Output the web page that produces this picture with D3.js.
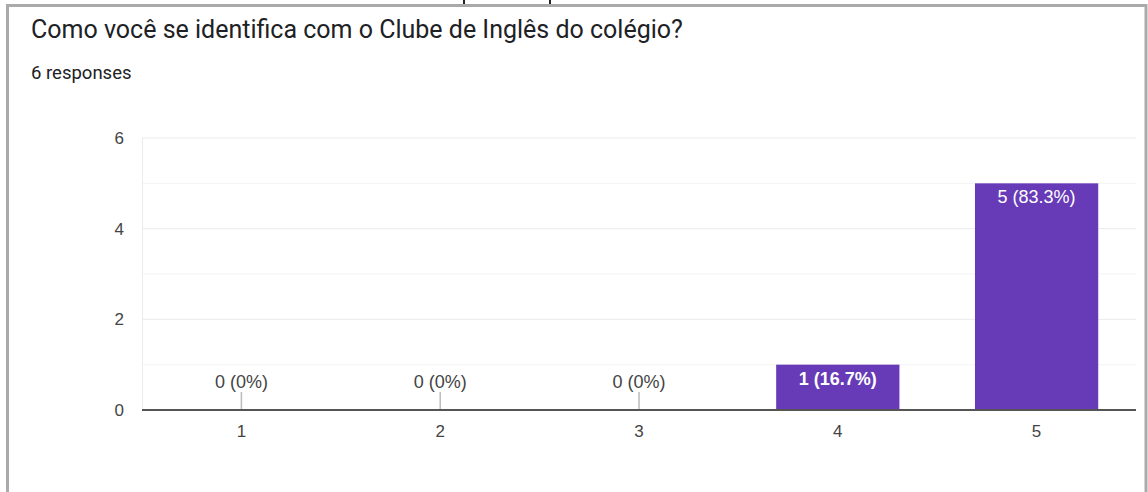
<!DOCTYPE html>
<html>
<head>
<meta charset="utf-8">
<script src="https://cdn.jsdelivr.net/npm/d3@7"></script>
<style>
  body { margin: 0; background: #fff; }
  svg { display: block; }
</style>
</head>
<body>
<svg id="chart"></svg>
<script>
const title = "Como você se identifica com o Clube de Inglês do colégio?";
const subtitle = "6 responses";
const categories = ["1", "2", "3", "4", "5"];
const counts = [0, 0, 0, 1, 5];
const percents = ["0%", "0%", "0%", "16.7%", "83.3%"];
const yTicks = [0, 2, 4, 6];

const width = 1148, height = 492;
const svg = d3.select("#chart").attr("width", width).attr("height", height);

// Card frame
svg.append("rect")
  .attr("x", 7.5).attr("y", 5.5)
  .attr("width", 1138.5).attr("height", 500)
  .attr("fill", "#fff").attr("stroke", "#aaa").attr("stroke-width", 3);

// small marks above the frame
[464, 550].forEach(x => {
  svg.append("rect").attr("x", x - 1).attr("y", 0).attr("width", 2).attr("height", 4).attr("fill", "#222");
});

svg.append("text")
  .attr("x", 31).attr("y", 38)
  .attr("font-family", "Roboto, Arial, sans-serif")
  .attr("font-size", 25)
  .attr("fill", "#202124")
  .text(title);

svg.append("text")
  .attr("x", 31).attr("y", 79)
  .attr("font-family", "Roboto, Arial, sans-serif")
  .attr("font-size", 18.5)
  .attr("fill", "#202124")
  .text(subtitle);

const margin = { top: 138, left: 142 };
const innerW = 1136 - margin.left;
const innerH = 410 - margin.top;
const font = "Arial, 'Liberation Sans', sans-serif";

const g = svg.append("g").attr("transform", `translate(${margin.left},${margin.top})`);

const x = d3.scaleBand().domain(categories).range([0, innerW]).paddingInner(0.38).paddingOuter(0.19);
const y = d3.scaleLinear().domain([0, 6]).range([innerH, 0]);

// gridlines (major + minor)
g.append("g")
  .selectAll("line")
  .data(d3.range(1, 7))
  .join("line")
  .attr("x1", 0).attr("x2", innerW)
  .attr("y1", d => y(d)).attr("y2", d => y(d))
  .attr("stroke", d => d % 2 === 0 ? "#ebebeb" : "#f3f3f3")
  .attr("stroke-width", 1);

g.append("line")
  .attr("x1", 0.5).attr("x2", 0.5)
  .attr("y1", 0).attr("y2", innerH)
  .attr("stroke", "#ebebeb");

// y axis labels
const yAxis = d3.axisLeft(y).tickValues(yTicks).tickFormat(d3.format("d")).tickSize(0).tickPadding(18);
g.append("g").call(yAxis)
  .call(s => s.select(".domain").remove())
  .selectAll("text")
  .attr("font-family", font)
  .attr("font-size", 17)
  .attr("fill", "#444");

const data = categories.map((c, i) => ({ c, v: counts[i], p: percents[i] }));

// bars
g.selectAll("rect.bar")
  .data(data)
  .join("rect")
  .attr("class", "bar")
  .attr("x", d => x(d.c))
  .attr("y", d => y(d.v))
  .attr("width", x.bandwidth())
  .attr("height", d => innerH - y(d.v))
  .attr("fill", "#673ab7");

// zero stems
g.selectAll("line.stem")
  .data(data.filter(d => d.v === 0))
  .join("line")
  .attr("class", "stem")
  .attr("x1", d => x(d.c) + x.bandwidth() / 2)
  .attr("x2", d => x(d.c) + x.bandwidth() / 2)
  .attr("y1", innerH - 18).attr("y2", innerH)
  .attr("stroke", "#bbb").attr("stroke-width", 1.5);

// value labels
g.selectAll("text.val")
  .data(data)
  .join("text")
  .attr("class", "val")
  .attr("x", d => x(d.c) + x.bandwidth() / 2)
  .attr("y", d => d.v === 0 ? innerH - 22 : y(d.v) + 20)
  .attr("text-anchor", "middle")
  .attr("font-family", font)
  .attr("font-size", 18)
  .attr("font-weight", d => d.v === 1 ? "bold" : "normal")
  .attr("fill", d => d.v === 0 ? "#444" : "#fff")
  .text(d => `${d.v} (${d.p})`);

// baseline
g.append("line")
  .attr("x1", 0).attr("x2", innerW)
  .attr("y1", innerH).attr("y2", innerH)
  .attr("stroke", "#555").attr("stroke-width", 2);

// x axis labels
const xAxis = d3.axisBottom(x).tickSize(0).tickPadding(15);
g.append("g").attr("transform", `translate(0,${innerH})`).call(xAxis)
  .call(s => s.select(".domain").remove())
  .selectAll("text")
  .attr("font-family", font)
  .attr("font-size", 17)
  .attr("fill", "#444");
</script>
</body>
</html>
